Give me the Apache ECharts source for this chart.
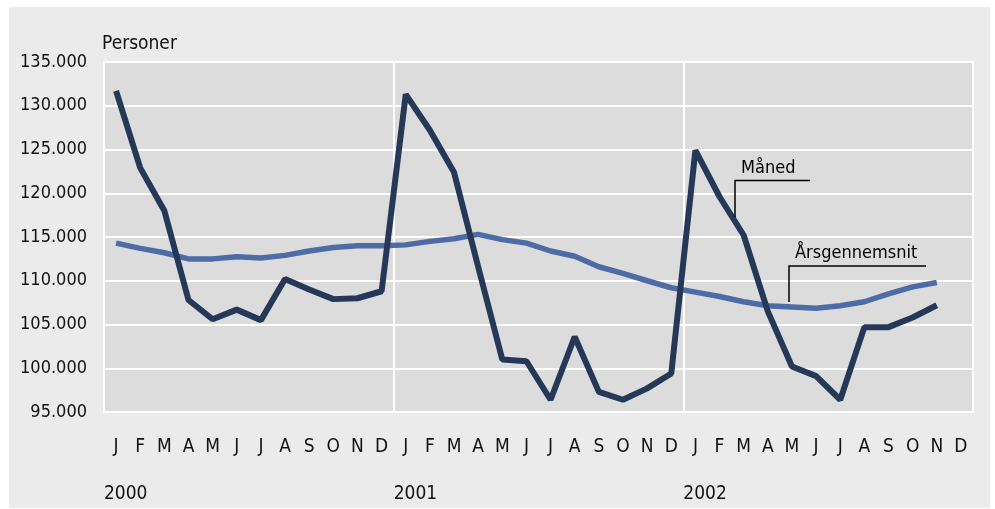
<!DOCTYPE html>
<html>
<head>
<meta charset="utf-8">
<script src="https://cdn.jsdelivr.net/npm/echarts@6/dist/echarts.min.js"></script>
<style>
html,body{margin:0;padding:0;background:#fff;}
#c{width:995px;height:509px;}
</style>
</head>
<body>
<div id="c"></div>
<script>
const months = ['J','F','M','A','M','J','J','A','S','O','N','D',
                'J','F','M','A','M','J','J','A','S','O','N','D',
                'J','F','M','A','M','J','J','A','S','O','N','D'];
const yearLabels = ['2000','2001','2002'];
const yAxisTicks = [95000, 100000, 105000, 110000, 115000, 120000, 125000, 130000, 135000];

const maaned = [131700, 122900, 118000, 107800, 105600, 106700, 105500, 110200, 109000, 107900, 108000, 108800,
                131300, 127200, 122400, 111600, 101000, 100800, 96400, 103600, 97300, 96400, 97700, 99400,
                124900, 119600, 115200, 106500, 100200, 99100, 96400, 104700, 104700, 105800, 107200];
const aarsgennemsnit = [114300, 113700, 113200, 112500, 112500, 112750, 112600, 112900, 113400, 113800, 114000, 114000,
                        114100, 114500, 114800, 115300, 114700, 114300, 113400, 112800, 111600, 110850, 110000, 109200,
                        108700, 108200, 107600, 107150, 107000, 106850, 107150, 107600, 108500, 109300, 109800];

const yearAxisData = [];
for (let i = 0; i <= months.length; i++) {
  yearAxisData.push(i % 12 === 0 && i / 12 < yearLabels.length ? yearLabels[i / 12] : '');
}

const FONT = '"DejaVu Sans Condensed", "Liberation Sans", sans-serif';
const chart = echarts.init(document.getElementById('c'), null, {renderer: 'canvas'});
chart.setOption({
  backgroundColor: '#ffffff',
  animation: false,
  title: {
    text: 'Personer', left: 97, top: 30,
    textStyle: {fontFamily: FONT, fontSize: 19, fontWeight: 'normal', color: '#111'}
  },
  grid: {
    left: 104, top: 62, width: 869, height: 350,
    show: true, backgroundColor: '#dcdcdc', borderColor: '#ffffff', borderWidth: 2
  },
  xAxis: [{
    type: 'category', data: months, boundaryGap: true,
    axisLine: {show: false}, axisTick: {show: false},
    axisLabel: {interval: 0, margin: 26, fontFamily: FONT, fontSize: 19, color: '#111'},
    splitLine: {show: true, interval: function (i) { return i % 12 === 0; },
                lineStyle: {color: '#ffffff', width: 2}}
  }, {
    type: 'category', data: yearAxisData, boundaryGap: false, position: 'bottom',
    axisLine: {show: false}, axisTick: {show: false}, splitLine: {show: false},
    axisLabel: {interval: 0, margin: 73, align: 'left', fontFamily: FONT, fontSize: 19, color: '#111'}
  }],
  yAxis: {
    type: 'value', min: yAxisTicks[0], max: yAxisTicks[yAxisTicks.length - 1], interval: 5000,
    axisLine: {show: false}, axisTick: {show: false},
    axisLabel: {margin: 17, fontFamily: FONT, fontSize: 18, color: '#111',
      formatter: function (v) { return String(v).replace(/\B(?=(\d{3})+(?!\d))/g, '.'); }},
    splitLine: {show: true, lineStyle: {color: '#ffffff', width: 2}}
  },
  series: [{
    name: 'Årsgennemsnit', type: 'line', data: aarsgennemsnit, xAxisIndex: 0,
    symbol: 'none', lineStyle: {color: '#4d6ca6', width: 5.5}, z: 3
  }, {
    name: 'Måned', type: 'line', data: maaned, xAxisIndex: 0,
    symbol: 'none', lineStyle: {color: '#263858', width: 6}, z: 4
  }],
  graphic: [
    {type: 'rect', z: -10, shape: {x: 9, y: 7, width: 981, height: 501}, style: {fill: '#ebebeb'}},
    {type: 'polyline', z: 10, shape: {points: [[735, 217], [735, 180.5], [810, 180.5]]},
      style: {stroke: '#000', lineWidth: 1.5, fill: null}},
    {type: 'text', z: 10, left: 741, top: 159,
      style: {text: 'Måned', font: '18px "DejaVu Sans Condensed", "Liberation Sans", sans-serif', fill: '#000'}},
    {type: 'polyline', z: 10, shape: {points: [[789, 302], [789, 266], [926, 266]]},
      style: {stroke: '#000', lineWidth: 1.5, fill: null}},
    {type: 'text', z: 10, left: 795, top: 244,
      style: {text: 'Årsgennemsnit', font: '18px "DejaVu Sans Condensed", "Liberation Sans", sans-serif', fill: '#000'}}
  ]
});
</script>
</body>
</html>
